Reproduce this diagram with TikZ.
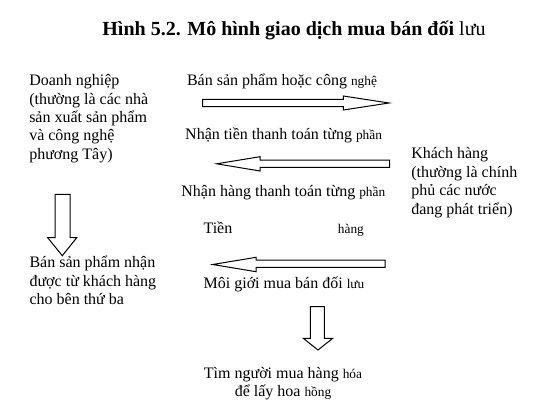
\documentclass[tikz,border=0pt]{standalone}
\usepackage{fontspec}
\setmainfont{Liberation Serif}
\newcommand{\fb}[1]{{\fontsize{10}{12}\selectfont #1}}

\begin{document}
\begin{tikzpicture}[x=0.75pt,y=0.75pt,yscale=-1,xscale=1,
  txt/.style={inner sep=0pt,font=\fontsize{12}{13.8}\selectfont},
  blockarrow/.style={draw=black,fill=white,line width=0.75}]
\useasboundingbox (0,0) rectangle (556,414);

%Shape: Right Arrow [ban san pham]
\draw [blockarrow] (202.7,99.3) -- (343.3,99.3) -- (343.3,96) -- (389,103) -- (343.3,110) -- (343.3,106.7) -- (202.7,106.7) -- cycle ;
%Shape: Left Arrow [nhan tien]
\draw [blockarrow] (389.5,160) -- (260,160) -- (260,156.7) -- (216.7,163.8) -- (260,171) -- (260,167.3) -- (389.5,167.3) -- cycle ;
%Shape: Left Arrow [moi gioi]
\draw [blockarrow] (385,260) -- (256,260) -- (256,257.3) -- (212.7,264.5) -- (256,271.7) -- (256,267.3) -- (385,267.3) -- cycle ;
%Shape: Down Arrow [doanh nghiep]
\draw [blockarrow] (55,194.3) -- (70,194.3) -- (70,237.7) -- (76.7,237.7) -- (62.3,255.7) -- (47.7,237.7) -- (55,237.7) -- cycle ;
%Shape: Down Arrow [moi gioi]
\draw [blockarrow] (310.3,306.7) -- (324.3,306.7) -- (324.3,338.3) -- (332.7,338.3) -- (318,350) -- (303.3,338.3) -- (310.3,338.3) -- cycle ;

% Text Node
\draw (294,35.5) node [anchor=base][inner sep=0pt,font=\fontsize{15}{18}\selectfont\bfseries] (title) {Hình 5.2. Mô hình giao dịch mua bán đối {\mdseries lưu}};
% Text Node (base = last line)
\draw (29,159.3) node [anchor=base west][txt,align=left] (doanhnghiep) {Doanh nghiệp\\(thường là các nhà\\sản xuất sản phẩm\\và công nghệ\\phương Tây)};
% Text Node
\draw (411,214) node [anchor=base west][txt,align=left] (khachhang) {Khách hàng\\(thường là chính\\phủ các nước\\đang phát triển)};
% Text Node
\draw (29.3,304.5) node [anchor=base west][txt,align=left] (benthuba) {Bán sản phẩm nhận\\được từ khách hàng\\cho bên thứ ba};
% Text Node
\draw (282,85) node [anchor=base][txt] (bansp) {Bán sản phẩm hoặc công \fb{nghệ}};
% Text Node
\draw (283.6,139.3) node [anchor=base][txt] (nhantien) {Nhận tiền thanh toán từng \fb{phần}};
% Text Node
\draw (283.3,196.7) node [anchor=base][txt] (nhanhang) {Nhận hàng thanh toán từng \fb{phần}};
% Text Node
\draw (203.3,233.3) node [anchor=base west][txt] (tien) {Tiền};
% Text Node
\draw (337.7,233.3) node [anchor=base west][txt] (hang) {\fb{hàng}};
% Text Node
\draw (284,288.3) node [anchor=base][txt] (moigioi) {Môi giới mua bán đối \fb{lưu}};
% Text Node
\draw (283,396.7) node [anchor=base][txt,align=center] (timnguoi) {Tìm người mua hàng \fb{hóa}\\để lấy hoa \fb{hồng}};

\end{tikzpicture}
\end{document}
